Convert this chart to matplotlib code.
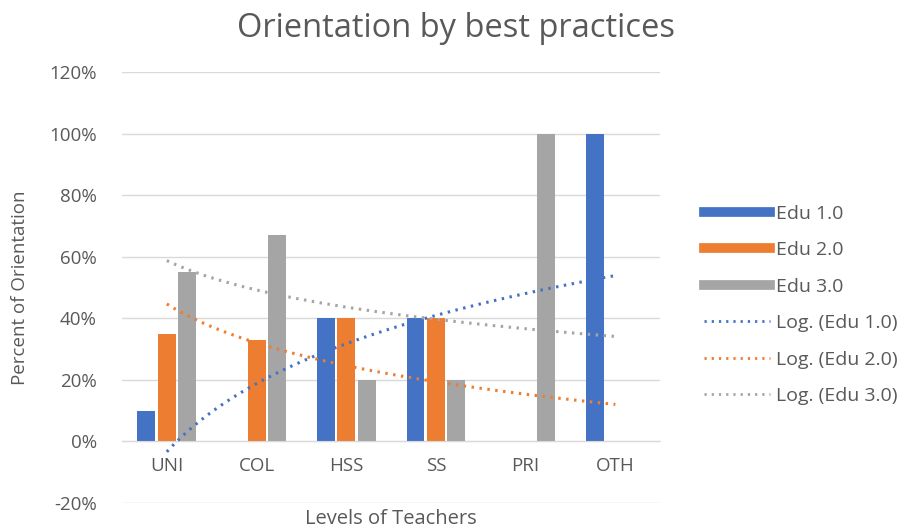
import numpy as np
import matplotlib.pyplot as plt
from matplotlib.lines import Line2D

plt.rcParams['font.family'] = ['Open Sans', 'DejaVu Sans']

# Data
levels = ['UNI', 'COL', 'HSS', 'SS', 'PRI', 'OTH']
edu1 = [10, 0, 40, 40, 0, 100]
edu2 = [35, 33, 40, 40, 0, 0]
edu3 = [55, 67, 20, 20, 100, 0]
series_names = ['Edu 1.0', 'Edu 2.0', 'Edu 3.0']
colors = ['#4472C4', '#ED7D31', '#A5A5A5']
txt = '#595959'

fig = plt.figure(figsize=(9.17, 5.31), dpi=100)
ax = fig.add_axes([0.133, 0.053, 0.587, 0.811])

x = np.arange(len(levels))
width = 0.2
offsets = [-0.228, 0, 0.228]
for vals, off, c in zip([edu1, edu2, edu3], offsets, colors):
    ax.bar(x + off, vals, width, color=c, zorder=2)

# Excel style logarithmic trendlines: y = a*ln(n) + b, n = 1..6
xs = np.linspace(1, len(levels), 100)
for vals, c in zip([edu1, edu2, edu3], colors):
    a, b = np.polyfit(np.log(np.arange(1, len(levels) + 1)), vals, 1)
    ax.plot(xs - 1, a * np.log(xs) + b, color=c, lw=2.2,
            linestyle=(0, (0.8, 1.8)), zorder=3)

ax.set_xlim(-0.5, len(levels) - 0.5)
ax.set_ylim(-20, 120)
ax.set_yticks(range(-20, 121, 20))
ax.set_yticklabels([f'{v}%' for v in range(-20, 121, 20)])
ax.set_xticks(x)
ax.set_xticklabels(levels)
ax.grid(axis='y', color='#d9d9d9', lw=1, zorder=0)
for s in ['top', 'right', 'left']:
    ax.spines[s].set_visible(False)
ax.spines['bottom'].set_position(('data', 0))
ax.spines['bottom'].set_color('#d9d9d9')
ax.tick_params(axis='both', length=0, labelsize=13.5, labelcolor=txt)
ax.tick_params(axis='x', pad=11)
ax.tick_params(axis='y', pad=18)

fig.text(0.497, 0.947, 'Orientation by best practices', ha='center', va='center',
         fontsize=23.5, color=txt)
fig.text(0.022, 0.458, 'Percent of Orientation', rotation=90, ha='center',
         va='center', fontsize=13.5, color=txt)
fig.text(0.426, 0.004, 'Levels of Teachers', ha='center', va='bottom',
         fontsize=14.5, color=txt)

handles = [Line2D([], [], color=c, lw=7) for c in colors]
handles += [Line2D([], [], color=c, lw=2, linestyle=(0, (0.8, 1.8))) for c in colors]
labels = series_names + [f'Log. ({n})' for n in series_names]
fig.legend(handles, labels, loc='center left', bbox_to_anchor=(0.749, 0.426),
           frameon=False, fontsize=14, labelcolor=txt, handlelength=3.4,
           labelspacing=0.95, handletextpad=0.3)

fig.savefig('out.png', dpi=100)
